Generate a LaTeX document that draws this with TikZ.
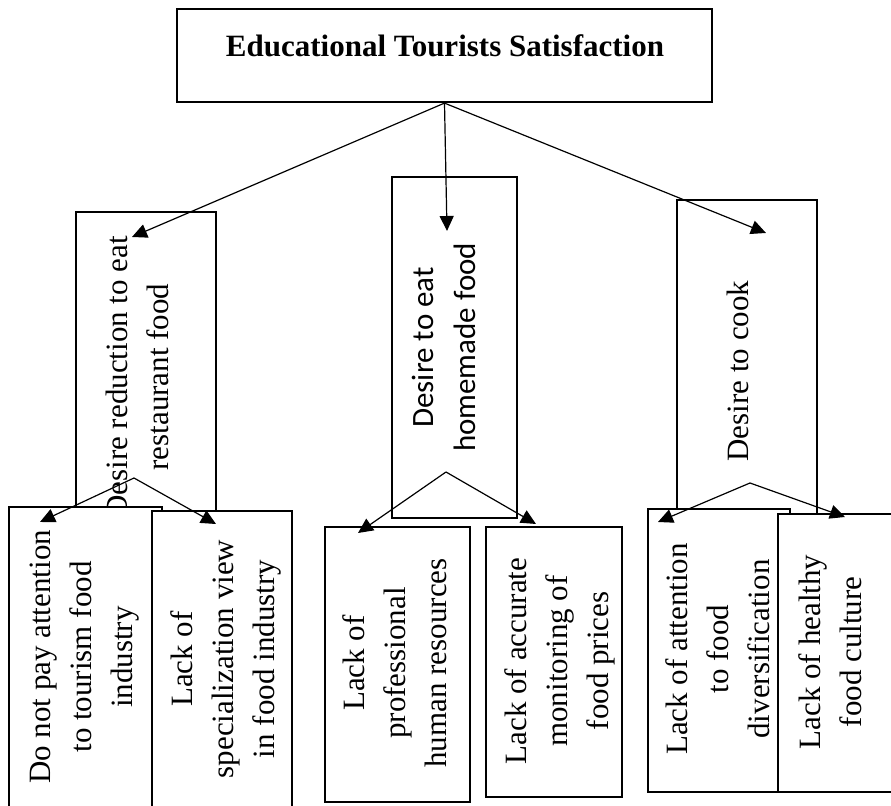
\documentclass[tikz,border=0pt]{standalone}
\usepackage{fontspec}
\setmainfont{Liberation Serif}
\newfontfamily\calibrisub{Carlito}
\usepackage{tikz}
\usetikzlibrary{arrows.meta,fit}

\begin{document}
\begin{tikzpicture}[
  x=0.5pt, y=-0.5pt,
  every node/.style={font=\fontsize{15.5}{20.5}\selectfont},
  box/.style={draw, line width=1.1pt, fill=white, inner sep=0pt},
  vlabel/.style={rotate=90, align=center, inner sep=0pt},
  arrow/.style={-{Triangle[length=7.5pt,width=7pt]}, line width=0.6pt}
]
  \useasboundingbox (0,0) rectangle (891,806);

  \node[box, fit={(177,9) (712,102)}] (sat) {};
  \node[font=\fontsize{15.5}{20.5}\selectfont\bfseries] (satTxt) at (445,46) {Educational Tourists Satisfaction};

  \node[box, fit={(76,212) (216,530)}] (restaurant) {};
  \node[vlabel] (restaurantTxt) at (137,377) {Desire reduction to eat\\restaurant food};
  \node[box, fit={(392,177) (517,518)}] (homemade) {};
  \node[vlabel, font=\fontsize{15.5}{21}\calibrisub] (homemadeTxt) at (444,347.5) {Desire to eat\\homemade food};
  \node[box, fit={(677,200) (817,530)}] (cook) {};
  \node[vlabel] (cookTxt) at (737.5,371) {Desire to cook};

  \node[box, fit={(9,507) (162,810)}] (tourism) {};
  \node[vlabel] (tourismTxt) at (85,657) {Do not pay attention\\to tourism food\\industry};
  \node[box, fit={(152,511) (292,810)}] (special) {};
  \node[vlabel] (specialTxt) at (225.5,659) {Lack of\\specialization view\\in food industry};
  \node[box, fit={(325,527) (470,802)}] (human) {};
  \node[vlabel] (humanTxt) at (394.5,663) {Lack of\\professional\\human resources};
  \node[box, fit={(486,527) (622,797)}] (prices) {};
  \node[vlabel] (pricesTxt) at (560,661) {Lack of accurate\\monitoring of\\food prices};
  \node[box, fit={(648,509) (790,792)}] (divers) {};
  \node[vlabel] (diversTxt) at (718,649) {Lack of attention\\to food\\diversification};
  \node[box, fit={(778,514) (895,792)}] (healthy) {};
  \node[vlabel] (healthyTxt) at (830,652) {Lack of healthy\\food culture};

  \coordinate (toRestaurant) at (132,237);
  \coordinate (toHomemade) at (447,231);
  \coordinate (toCook) at (766,233);
  \coordinate (restaurantFork) at (134,478);
  \coordinate (homemadeFork) at (446,472);
  \coordinate (cookFork) at (750,483);
  \coordinate (toTourism) at (40,522);
  \coordinate (toSpecial) at (216,524);
  \coordinate (toHuman) at (358,533);
  \coordinate (toPrices) at (536,524);
  \coordinate (toDivers) at (658,522);
  \coordinate (toHealthy) at (845,517);

  \foreach \tip in {toRestaurant,toHomemade,toCook}
    \draw[arrow] (sat.south) -- (\tip);
  \draw[arrow] (restaurantFork) -- (toTourism);
  \draw[arrow] (restaurantFork) -- (toSpecial);
  \draw[arrow] (homemadeFork) -- (toHuman);
  \draw[arrow] (homemadeFork) -- (toPrices);
  \draw[arrow] (cookFork) -- (toDivers);
  \draw[arrow] (cookFork) -- (toHealthy);
\end{tikzpicture}
\end{document}
